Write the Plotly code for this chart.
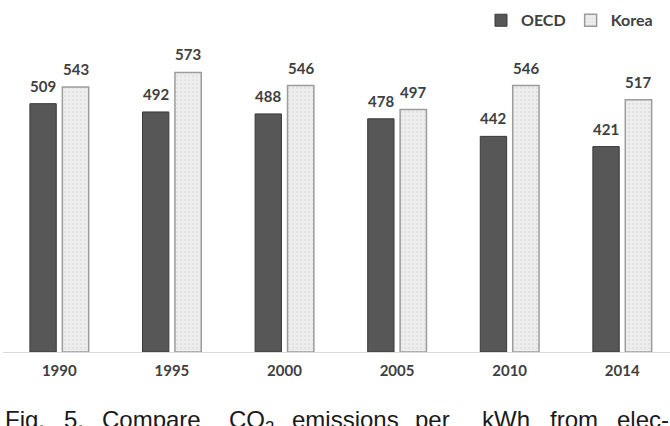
import plotly.graph_objects as go

years = ["1990", "1995", "2000", "2005", "2010", "2014"]
oecd = [509, 492, 488, 478, 442, 421]
korea = [543, 573, 546, 497, 546, 517]
series_names = ["OECD", "Korea"]
caption_words = ["Fig.", "5.", "Compare", "CO<sub>2</sub>", "emissions", "per", "kWh", "from", "elec-"]
caption_px = [3, 62, 100, 227, 290, 413, 480, 548, 615]

W, H = 670, 426
ML, MR, MT, MB = 3, 0, 30, 74
plot_w = W - ML - MR
plot_h = H - MT - MB
x_range = [-0.5, 5.424]
y_range = [0, 660]
bargap = 0.424
bargroupgap = 0.1875

label_font = dict(family="Lato", size=15, color="#404040")

fig = go.Figure()
fig.add_trace(go.Bar(
    name=series_names[0], x=years, y=oecd,
    marker=dict(color="#575757", line=dict(color="#3a3a3a", width=1)),
))
fig.add_trace(go.Bar(
    name=series_names[1], x=years, y=korea,
    marker=dict(color="#ececec", line=dict(color="#9c9c9c", width=1.5),
                pattern=dict(shape=".", fgcolor="#d6d6d6", bgcolor="#eeeeee",
                             size=4, solidity=0.35)),
))

cat_px = plot_w / (x_range[1] - x_range[0])
slot = (1 - bargap) * cat_px / 2
annotations = []
for i, vals in enumerate([oecd, korea]):
    shift = (i - 0.5) * slot
    for j, v in enumerate(vals):
        annotations.append(dict(
            x=j, y=v, xref="x", yref="y", text="<b>%d</b>" % v,
            showarrow=False, xanchor="center", yanchor="bottom",
            xshift=shift, yshift=7, font=label_font,
        ))

for word, px in zip(caption_words, caption_px):
    annotations.append(dict(
        x=(px - ML) / plot_w, y=(H - MB - 404) / plot_h, xref="paper", yref="paper",
        text=word, showarrow=False, xanchor="left", yanchor="top",
        font=dict(family="Liberation Sans", size=24, color="#1a1a1a"),
    ))

fig.update_layout(
    width=W, height=H,
    margin=dict(l=ML, r=MR, t=MT, b=MB),
    paper_bgcolor="white", plot_bgcolor="white",
    barmode="group", bargap=bargap, bargroupgap=bargroupgap,
    showlegend=True,
    legend=dict(orientation="h", x=0.982, xanchor="right", y=1.03, yanchor="middle",
                font=dict(family="Lato", size=16, color="#404040", weight="bold"),
                itemwidth=30, traceorder="normal"),
    xaxis=dict(type="category", range=x_range, showline=True, linecolor="#d9d9d9", linewidth=1,
               showgrid=False, ticks="", ticklabelstandoff=5,
               tickfont=dict(family="Lato", size=15, color="#404040", weight="bold")),
    yaxis=dict(range=y_range, visible=False, showgrid=False, zeroline=False),
    annotations=annotations,
)

fig.write_html("out.html")
